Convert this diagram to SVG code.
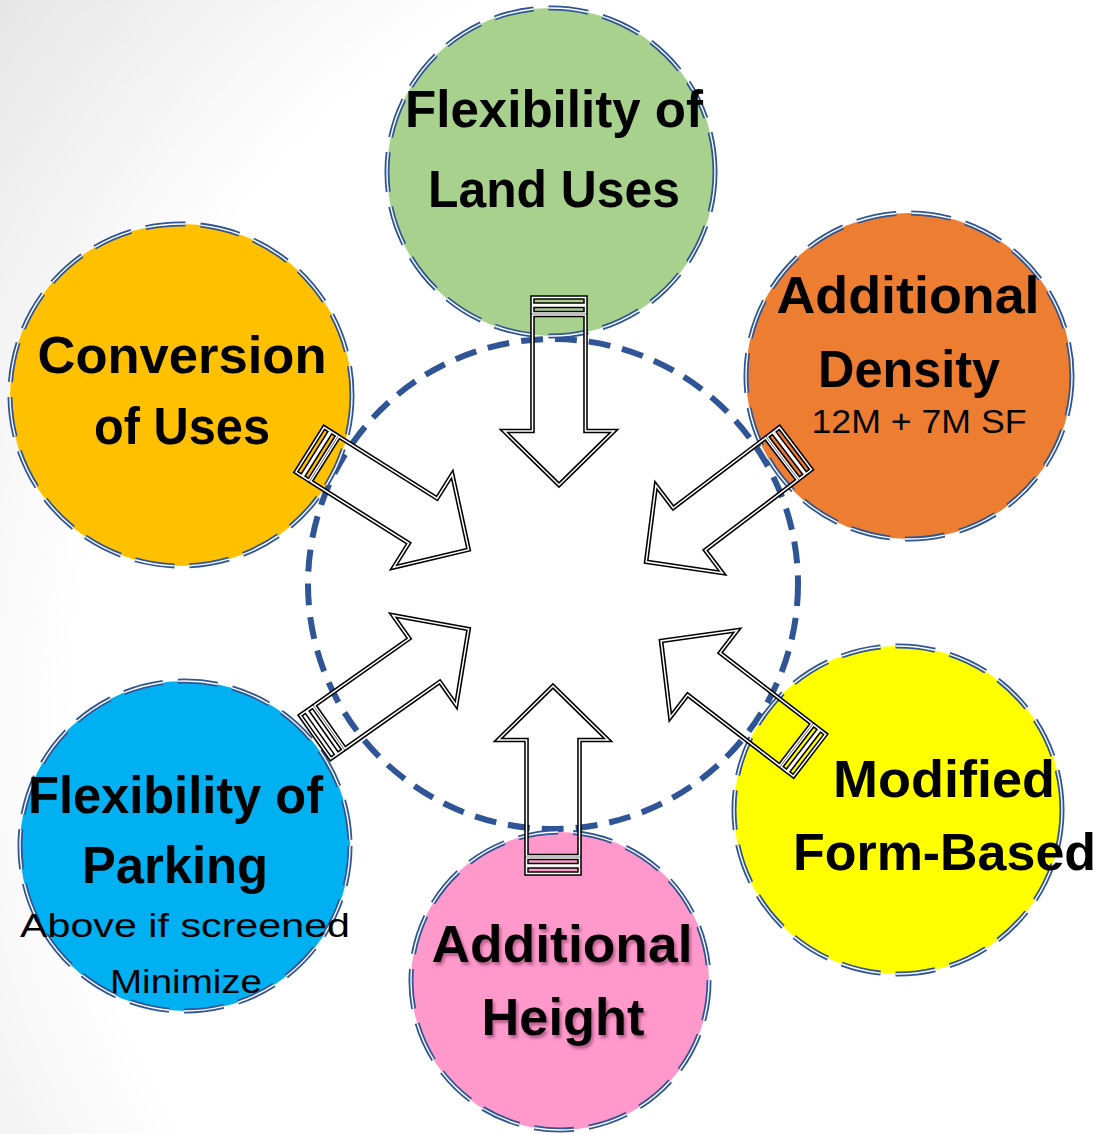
<svg xmlns="http://www.w3.org/2000/svg" xmlns:xlink="http://www.w3.org/1999/xlink" width="1102" height="1134" viewBox="0 0 1102 1134">
  <defs>
    <radialGradient id="bg" gradientUnits="userSpaceOnUse" cx="900" cy="720" r="1150">
      <stop offset="0.72" stop-color="#ffffff"/>
      <stop offset="1" stop-color="#e6e6e6"/>
    </radialGradient>
    <filter id="softShadow" x="-10%" y="-10%" width="130%" height="140%">
      <feDropShadow dx="2" dy="3" stdDeviation="1.6" flood-color="#7a2f55" flood-opacity="0.55"/>
    </filter>
    <!-- striped block arrow pointing along +x, tail at origin -->
    <path id="arrowGeom" d="M1.5,-26.5 H8.5 V26.5 H1.5 Z M10,-26.5 H17 V26.5 H10 Z M19,-26.5 H135 V-55 L189,0 L135,55 V26.5 H19 Z"/>
    <g id="arrow">
      <use xlink:href="#arrowGeom" class="arrow-outer"/>
      <use xlink:href="#arrowGeom" class="arrow-inner"/>
    </g>
  </defs>
  <style>
    .ring { stroke: #2F5597; stroke-width: 5; stroke-dasharray: 40 15; }
    .ring-gap { fill: none; stroke: #ffffff; stroke-width: 1.4; stroke-dasharray: 40 15; }
    .hub { fill: none; stroke: #2F5597; stroke-width: 6; stroke-dasharray: 22 12; }
    .arrow-outer { fill: none; stroke: #000000; stroke-width: 4.6; stroke-linejoin: miter; }
    .arrow-inner { fill: none; stroke: #ffffff; stroke-width: 1.5; stroke-linejoin: miter; }
    .title { font-family: "Liberation Sans", "DejaVu Sans", sans-serif; font-weight: bold; font-size: 52px; fill: #000000; text-anchor: middle; }
    .note { font-family: "Liberation Sans", "DejaVu Sans", sans-serif; font-size: 33px; fill: #000000; text-anchor: middle; }
  </style>

  <rect x="0" y="0" width="1102" height="1134" fill="url(#bg)"/>

  <!-- central hub -->
  <g id="hub">
    <circle class="hub" cx="553" cy="584" r="245"/>
  </g>

  <g id="node-land-uses">
    <circle class="ring" cx="551" cy="172" r="164" fill="#A9D18E"/>
    <circle class="ring-gap" cx="551" cy="172" r="164"/>
    <text class="title" x="554" y="127" textLength="298" lengthAdjust="spacingAndGlyphs">Flexibility of</text>
    <text class="title" x="554" y="207" textLength="252" lengthAdjust="spacingAndGlyphs">Land Uses</text>
  </g>

  <g id="node-density">
    <circle class="ring" cx="909" cy="376" r="163" fill="#ED7D31"/>
    <circle class="ring-gap" cx="909" cy="376" r="163"/>
    <text class="title" x="908" y="313" textLength="263" lengthAdjust="spacingAndGlyphs">Additional</text>
    <text class="title" x="909" y="387" textLength="182" lengthAdjust="spacingAndGlyphs">Density</text>
    <text class="note" x="919" y="433" textLength="215" lengthAdjust="spacingAndGlyphs">12M + 7M SF</text>
  </g>

  <g id="node-conversion">
    <circle class="ring" cx="181" cy="395" r="171" fill="#FFC000"/>
    <circle class="ring-gap" cx="181" cy="395" r="171"/>
    <text class="title" x="182" y="373" textLength="289" lengthAdjust="spacingAndGlyphs">Conversion</text>
    <text class="title" x="182" y="444" textLength="176" lengthAdjust="spacingAndGlyphs">of Uses</text>
  </g>

  <g id="node-parking">
    <circle class="ring" cx="185" cy="846" r="165" fill="#00B0F0"/>
    <circle class="ring-gap" cx="185" cy="846" r="165"/>
    <text class="title" x="175.5" y="813" textLength="295" lengthAdjust="spacingAndGlyphs">Flexibility of</text>
    <text class="title" x="175" y="883" textLength="186" lengthAdjust="spacingAndGlyphs">Parking</text>
    <text class="note" x="185" y="937" textLength="330" lengthAdjust="spacingAndGlyphs">Above if screened</text>
    <text class="note" x="186" y="993" textLength="152" lengthAdjust="spacingAndGlyphs">Minimize</text>
  </g>

  <g id="node-height">
    <circle class="ring" cx="560" cy="981" r="149" fill="#FF99CC"/>
    <circle class="ring-gap" cx="560" cy="981" r="149"/>
    <g filter="url(#softShadow)">
      <text class="title" x="562" y="962" textLength="261" lengthAdjust="spacingAndGlyphs">Additional</text>
      <text class="title" x="563" y="1035" textLength="163" lengthAdjust="spacingAndGlyphs">Height</text>
    </g>
  </g>

  <g id="node-form-based">
    <circle class="ring" cx="898" cy="810" r="164" fill="#FFFF00"/>
    <circle class="ring-gap" cx="898" cy="810" r="164"/>
    <text class="title" x="944" y="797" textLength="222" lengthAdjust="spacingAndGlyphs">Modified</text>
    <text class="title" x="944.5" y="870" textLength="303" lengthAdjust="spacingAndGlyphs">Form-Based</text>
  </g>

  <!-- striped arrows pointing into the hub -->
  <g id="connectors">
    <use xlink:href="#arrow" transform="translate(559,296) rotate(90)"/>
    <use xlink:href="#arrow" transform="translate(796.7,447.5) rotate(142.8)"/>
    <use xlink:href="#arrow" transform="translate(308.7,448.9) rotate(32.2)"/>
    <use xlink:href="#arrow" transform="translate(314.2,738) rotate(-35.2)"/>
    <use xlink:href="#arrow" transform="translate(810.8,756.2) rotate(-142.4)"/>
    <use xlink:href="#arrow" transform="translate(553,875) rotate(-90)"/>
  </g>
</svg>
